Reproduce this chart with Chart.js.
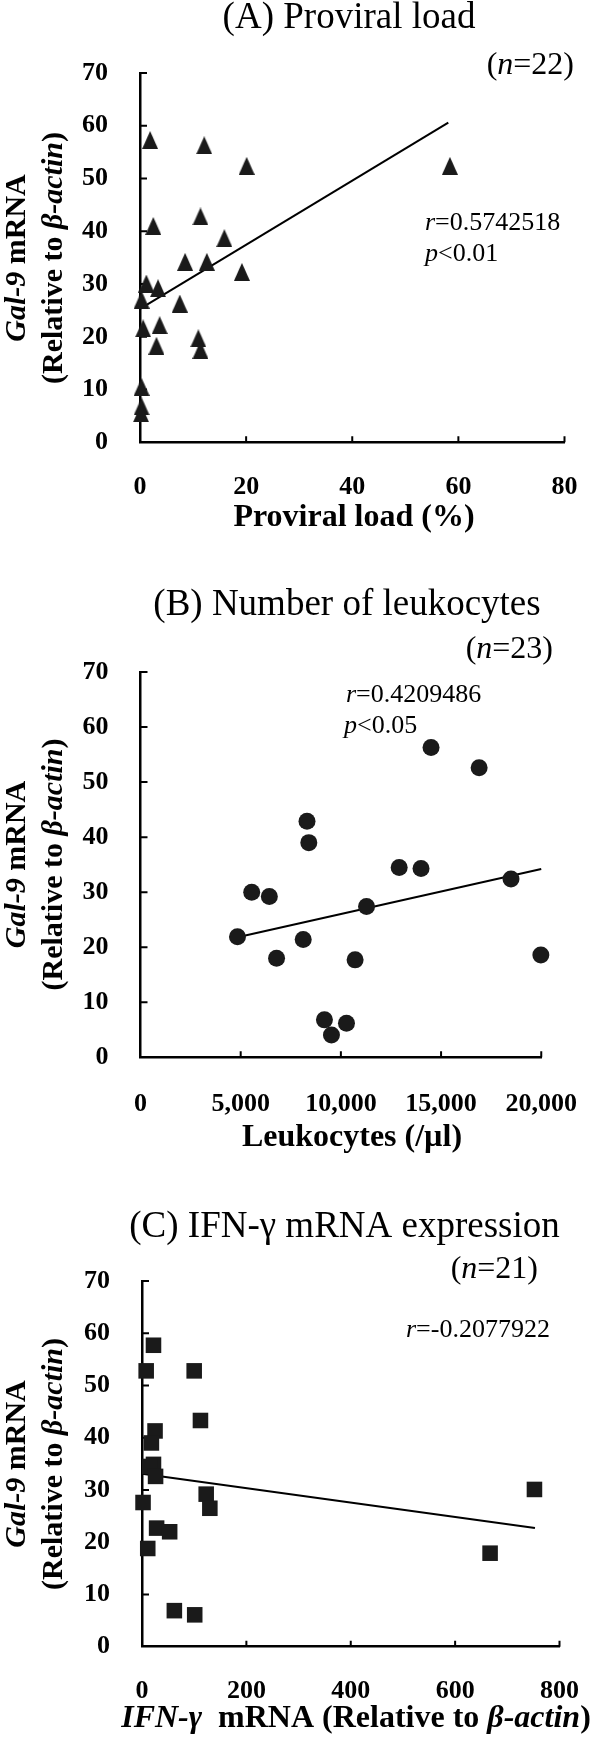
<!DOCTYPE html>
<html>
<head>
<meta charset="utf-8">
<script src="https://cdn.jsdelivr.net/npm/chart.js@4.4.0/dist/chart.umd.min.js"></script>
<style>
  body { margin: 0; background: #fff; }
  canvas { position: absolute; left: 0; }
</style>
</head>
<body>
<canvas id="panelA" width="600" height="560" style="top:0px"></canvas>
<canvas id="panelB" width="600" height="605" style="top:560px"></canvas>
<canvas id="panelC" width="600" height="572" style="top:1165px"></canvas>
<script>
// (A) proviral load vs Gal-9
const proviralLoad = [1.9, 12.1, 20.1, 58.4, 11.4, 2.5, 15.9, 8.5, 12.6, 19.2, 1.2, 3.4, 0.3, 7.5, 0.6, 3.7, 3.1, 11.0, 11.4, 0.3, 0.3, 0.2];
const gal9A = [57.3, 56.3, 52.4, 52.4, 42.8, 41.0, 38.7, 34.2, 34.2, 32.3, 30.1, 29.2, 27.0, 26.3, 21.6, 22.2, 18.3, 19.7, 17.5, 10.5, 6.8, 5.5];
const fitAX = [0, 58.1];
const fitAY = [25.3, 60.6];

// (B) leukocytes vs Gal-9
const leukocytes = [14500, 16900, 8310, 8400, 12910, 14000, 18490, 5550, 6430, 11280, 4840, 8120, 6790, 10710, 19980, 9180, 10280, 9530];
const gal9B = [56.3, 52.6, 42.9, 39.0, 34.5, 34.3, 32.4, 30.0, 29.2, 27.4, 21.9, 21.4, 18.0, 17.7, 18.6, 6.8, 6.2, 4.05];
const fitBX = [4840, 20000];
const fitBY = [21.8, 34.2];

// (C) IFN-gamma vs Gal-9
const ifnGamma = [22, 8, 100, 112, 25, 18, 22, 15, 26, 2, 123, 130, 752, 28, 53, 11, 667, 62, 101];
const gal9C = [57.7, 52.8, 52.8, 43.3, 41.3, 39.0, 34.9, 34.5, 32.6, 27.6, 29.2, 26.5, 30.1, 22.7, 22.0, 18.8, 17.9, 6.9, 6.1];
const fitCX = [0, 753];
const fitCY = [33.1, 22.7];

const yTicks = [0, 10, 20, 30, 40, 50, 60, 70];
const xTicksA = [0, 20, 40, 60, 80];
const xTicksB = [0, 5000, 10000, 15000, 20000];
const xTicksC = [0, 200, 400, 600, 800];

const SERIF = '"Liberation Serif", "Times New Roman", serif';
const f = (size, style = '') => `${style} ${size}px ${SERIF}`;
const MARK = '#1a1a1a';

function triangleMark(w, h) {
  const c = document.createElement('canvas');
  c.width = w; c.height = h;
  const g = c.getContext('2d');
  g.fillStyle = MARK;
  g.beginPath();
  g.moveTo(w / 2, 0);
  g.lineTo(w, h);
  g.lineTo(0, h);
  g.closePath();
  g.fill();
  return c;
}

// draws a line of mixed-font text
function drawRuns(ctx, runs, x, y, align, rotate) {
  ctx.save();
  ctx.translate(x, y);
  if (rotate) ctx.rotate(-Math.PI / 2);
  ctx.textAlign = 'left';
  ctx.textBaseline = 'alphabetic';
  ctx.fillStyle = '#000';
  let total = 0;
  runs.forEach(r => { ctx.font = r[1]; total += ctx.measureText(r[0]).width; });
  let cx = align === 'center' ? -total / 2 : align === 'right' ? -total : 0;
  runs.forEach(r => {
    ctx.font = r[1];
    ctx.fillText(r[0], cx, 0);
    cx += ctx.measureText(r[0]).width;
  });
  ctx.restore();
}

const innerTicks = {
  id: 'innerTicks',
  beforeDatasetsDraw(chart) {
    const {ctx, chartArea: a, scales: {x, y}} = chart;
    ctx.save();
    ctx.strokeStyle = '#000';
    ctx.lineWidth = 2;
    ctx.beginPath();
    y.ticks.forEach(t => {
      if (t.value === 0) return;
      const py = y.getPixelForValue(t.value);
      ctx.moveTo(a.left, py); ctx.lineTo(a.left + 7, py);
    });
    x.ticks.forEach(t => {
      if (t.value === 0) return;
      const px = x.getPixelForValue(t.value);
      ctx.moveTo(px, a.bottom); ctx.lineTo(px, a.bottom - 6);
    });
    ctx.stroke();
    ctx.restore();
  }
};

function makePanel(id, o) {
  const texts = {
    id: 'texts' + id,
    afterDraw(chart) {
      const ctx = chart.ctx;
      o.texts.forEach(t => drawRuns(ctx, t.runs, t.x, t.y, t.align, t.rotate));
    }
  };
  return new Chart(document.getElementById(id), {
    type: 'scatter',
    data: {
      datasets: [
        {
          data: o.xs.map((x, i) => ({x: x, y: o.ys[i]})),
          pointStyle: o.marker,
          pointRadius: o.radius,
          pointHoverRadius: o.radius,
          backgroundColor: MARK,
          borderWidth: 0,
          clip: false
        },
        {
          type: 'line',
          data: o.fitX.map((x, i) => ({x: x, y: o.fitY[i]})),
          borderColor: '#000',
          borderWidth: 2,
          pointRadius: 0,
          fill: false,
          clip: false
        }
      ]
    },
    options: {
      responsive: false,
      animation: false,
      events: [],
      layout: {padding: {top: o.area.top, right: 600 - o.area.right, left: 0, bottom: 0}},
      plugins: {legend: {display: false}, tooltip: {enabled: false}},
      scales: {
        x: {
          type: 'linear',
          min: 0, max: o.xTicks[o.xTicks.length - 1],
          afterBuildTicks: s => { s.ticks = o.xTicks.map(v => ({value: v})); },
          afterFit: s => { s.height = o.h - o.area.bottom; },
          grid: {display: false},
          border: {display: true, color: '#000', width: 2.5},
          ticks: {
            font: {family: SERIF, size: 26, weight: 'bold'},
            color: '#000',
            padding: o.xPad,
            maxRotation: 0,
            autoSkip: false,
            callback: o.xFmt || (v => v)
          }
        },
        y: {
          type: 'linear',
          min: 0, max: 70,
          afterBuildTicks: s => { s.ticks = yTicks.map(v => ({value: v})); },
          afterFit: s => { s.width = o.area.left; },
          grid: {display: false},
          border: {display: true, color: '#000', width: 2.5},
          ticks: {
            font: {family: SERIF, size: 26, weight: 'bold'},
            color: '#000',
            padding: 24,
            autoSkip: false
          }
        }
      }
    },
    plugins: [innerTicks, texts]
  });
}

function yTitle(cy) {
  return [
    {runs: [['Gal-9', f(30, 'italic bold')], [' mRNA', f(30, 'bold')]], x: 25, y: cy, align: 'center', rotate: true},
    {runs: [['(Relative to ', f(30, 'bold')], ['\u03B2-actin', f(30, 'italic bold')], [')', f(30, 'bold')]], x: 62, y: cy, align: 'center', rotate: true}
  ];
}

function nLabel(n, x, y) {
  return {runs: [['(', f(32)], ['n', f(32, 'italic')], ['=' + n + ')', f(32)]], x: x, y: y, align: 'right'};
}

makePanel('panelA', {
  xs: proviralLoad, ys: gal9A, fitX: fitAX, fitY: fitAY,
  marker: triangleMark(16, 18), radius: 9,
  xTicks: xTicksA, h: 560, xPad: 21,
  area: {left: 140, right: 564.5, top: 73, bottom: 442.3},
  texts: [
    {runs: [['(A) Proviral load', f(37)]], x: 349, y: 28, align: 'center'},
    nLabel(22, 574, 74),
    {runs: [['r', f(26, 'italic')], ['=0.5742518', f(26)]], x: 425, y: 230, align: 'left'},
    {runs: [['p', f(26, 'italic')], ['<0.01', f(26)]], x: 425, y: 261, align: 'left'},
    {runs: [['Proviral load (%)', f(32, 'bold')]], x: 354, y: 526, align: 'center'}
  ].concat(yTitle(258))
});

makePanel('panelB', {
  xs: leukocytes, ys: gal9B, fitX: fitBX, fitY: fitBY,
  marker: 'circle', radius: 8.5,
  xTicks: xTicksB, h: 605, xPad: 23,
  xFmt: v => v.toLocaleString('en-US'),
  area: {left: 140.5, right: 561.8, top: 112, bottom: 497.3},
  texts: [
    {runs: [['(B) Number of leukocytes', f(37)]], x: 347, y: 55, align: 'center'},
    nLabel(23, 553, 98),
    {runs: [['r', f(26, 'italic')], ['=0.4209486', f(26)]], x: 346, y: 142, align: 'left'},
    {runs: [['p', f(26, 'italic')], ['<0.05', f(26)]], x: 344, y: 173, align: 'left'},
    {runs: [['Leukocytes (/\u00B5l)', f(32, 'bold')]], x: 352, y: 586, align: 'center'}
  ].concat(yTitle(304.5))
});

makePanel('panelC', {
  xs: ifnGamma, ys: gal9C, fitX: fitCX, fitY: fitCY,
  marker: 'rect', radius: 11,
  xTicks: xTicksC, h: 572, xPad: 21,
  area: {left: 142, right: 567.5, top: 116, bottom: 481.7},
  texts: [
    {runs: [['(C) IFN-\u03B3 mRNA expression', f(37)]], x: 344.5, y: 72, align: 'center'},
    nLabel(21, 538, 113),
    {runs: [['r', f(26, 'italic')], ['=-0.2077922', f(26)]], x: 406, y: 172, align: 'left'},
    {runs: [['IFN-\u03B3', f(32, 'italic bold')], ['  mRNA (Relative to ', f(32, 'bold')], ['\u03B2-actin', f(32, 'italic bold')], [')', f(32, 'bold')]], x: 356, y: 562, align: 'center'}
  ].concat(yTitle(299))
});
</script>
</body>
</html>
